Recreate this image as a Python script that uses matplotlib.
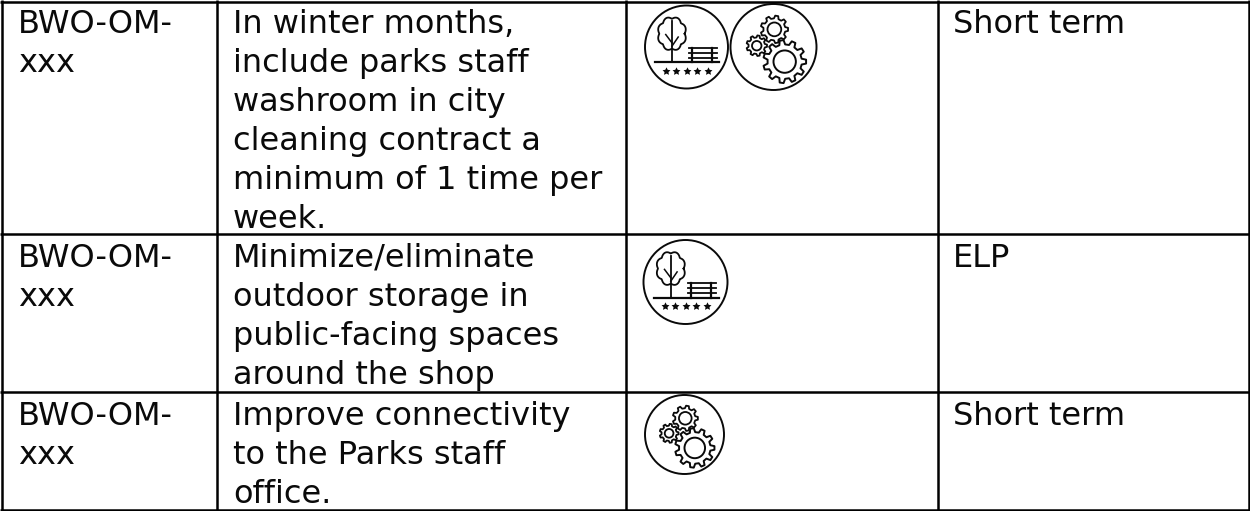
import numpy as np
import matplotlib
matplotlib.use("Agg")
import matplotlib.pyplot as plt
from matplotlib.patches import Circle, Polygon

ids = ["BWO-OM-\nxxx"] * 3
actions = [
    "In winter months,\ninclude parks staff\nwashroom in city\ncleaning contract a\nminimum of 1 time per\nweek.",
    "Minimize/eliminate\noutdoor storage in\npublic-facing spaces\naround the shop",
    "Improve connectivity\nto the Parks staff\noffice.",
]
terms = ["Short term", "ELP", "Short term"]

col_edges = [2, 217, 626, 938, 1249]
row_edges = [2, 234, 392, 510]
text_x = [18, 233, 953]
first_base = [33, 267, 425]
# kind, centre x, centre y, radius for each icon in the third column
icons = [
    ("park", 686.5, 47, 41.5),
    ("gears", 773.5, 47, 43),
    ("park", 685.5, 282, 42),
    ("gears", 684.5, 434.5, 39.5),
]
line_h = 39
font_px = 32
INK = "#0a0a0a"

fig = plt.figure(figsize=(12.5, 5.11), dpi=100)
ax = fig.add_axes([0, 0, 1, 1])
ax.set_xlim(0, 1250)
ax.set_ylim(511, 0)
ax.axis("off")


def draw_gear(cx, cy, r_out, r_in, teeth, lw):
    angles = []
    radii = []
    for i in range(teeth):
        a = 2 * np.pi * i / teeth
        step = 2 * np.pi / teeth
        angles += [a - 0.30 * step, a - 0.16 * step, a + 0.16 * step, a + 0.30 * step]
        radii += [r_out * 0.8, r_out, r_out, r_out * 0.8]
    xs = cx + np.cos(angles) * np.array(radii)
    ys = cy + np.sin(angles) * np.array(radii)
    ax.add_patch(Polygon(np.c_[xs, ys], fc="white", ec=INK, lw=lw, joinstyle="round"))
    ax.add_patch(Circle((cx, cy), r_in, fc="white", ec=INK, lw=lw))


def draw_gears(cx, cy, r):
    ax.add_patch(Circle((cx, cy), r, fc="white", ec=INK, lw=1.4))
    draw_gear(cx + 0.02 * r, cy - 0.41 * r, 0.32 * r, 0.16 * r, 9, 1.3)
    draw_gear(cx - 0.39 * r, cy - 0.03 * r, 0.24 * r, 0.11 * r, 9, 1.3)
    draw_gear(cx + 0.26 * r, cy + 0.34 * r, 0.50 * r, 0.26 * r, 11, 1.4)


def draw_park(cx, cy, r):
    ax.add_patch(Circle((cx, cy), r, fc="white", ec=INK, lw=1.4))
    # crown of the tree, a scalloped outline
    t = np.linspace(0, 2 * np.pi, 240)
    rad = 0.87 + 0.13 * np.abs(np.sin(4 * t))
    ax.plot(cx - 0.35 * r + 0.35 * r * rad * np.cos(t),
            cy - 0.32 * r + 0.41 * r * rad * np.sin(t), color=INK, lw=1.3)
    ax.plot([cx - 0.35 * r] * 2, [cy - 0.62 * r, cy + 0.37 * r], color=INK, lw=1.3)
    ax.plot([cx - 0.35 * r, cx - 0.50 * r], [cy - 0.10 * r, cy - 0.30 * r], color=INK, lw=1.1)
    ax.plot([cx - 0.35 * r, cx - 0.20 * r], [cy - 0.02 * r, cy - 0.24 * r], color=INK, lw=1.1)
    # ground
    ax.plot([cx - 0.76 * r, cx + 0.79 * r], [cy + 0.37 * r] * 2, color=INK, lw=1.6)
    # bench
    for dy in [0.03, 0.15, 0.27]:
        ax.plot([cx + 0.06 * r, cx + 0.73 * r], [cy + dy * r] * 2, color=INK, lw=1.3)
    for dx in [0.14, 0.61]:
        ax.plot([cx + dx * r] * 2, [cy + 0.03 * r, cy + 0.37 * r], color=INK, lw=1.6)
    # stars
    star_dx = np.array([-0.49, -0.25, 0.0, 0.26, 0.51])
    ax.scatter(cx + star_dx * r, np.full(5, cy + 0.58 * r), marker=(5, 1), s=36, color=INK, lw=0)


for y0 in row_edges:
    ax.plot([0, 1250], [y0, y0], color="black", lw=1.8, solid_capstyle="butt")
for x0 in col_edges:
    ax.plot([x0, x0], [0, 511], color="black", lw=1.8, solid_capstyle="butt")

for i in range(len(ids)):
    for j, column in enumerate([ids, actions, terms]):
        for k, line in enumerate(column[i].split("\n")):
            ax.text(text_x[j], first_base[i] + k * line_h, line, fontsize=font_px * 0.72,
                    family="DejaVu Sans", color=INK, va="baseline", ha="left")

for kind, cx, cy, r in icons:
    if kind == "park":
        draw_park(cx, cy, r)
    else:
        draw_gears(cx, cy, r)

fig.savefig("out.png", dpi=100)
